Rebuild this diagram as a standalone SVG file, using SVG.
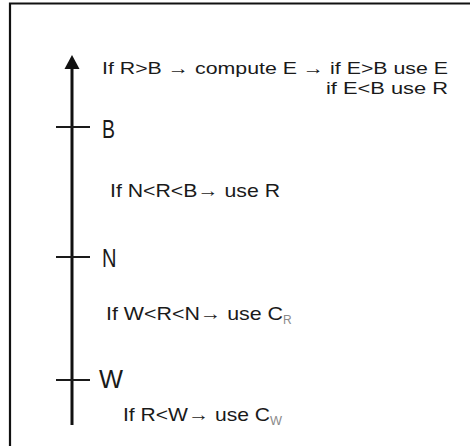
<svg xmlns="http://www.w3.org/2000/svg" width="470" height="446" viewBox="0 0 470 446">
<style>
.t{font-family:"Liberation Sans",Arial,sans-serif;font-size:19px;fill:#1a1a1a}
.tt{font-family:"Liberation Sans",Arial,sans-serif;font-size:17px;fill:#1a1a1a}
.lbl{font-family:"Liberation Sans",Arial,sans-serif;font-size:25px;fill:#1a1a1a}
.sub{font-family:"Liberation Sans",Arial,sans-serif;font-size:12px;fill:#8a8a8a}
.tick{stroke:#1a1a1a;stroke-width:2.2}
</style>
<rect width="470" height="446" fill="#ffffff"/>
<path d="M10 446 V3.5 H470" fill="none" stroke="#111" stroke-width="2.2"/>
<g id="axis">
<line x1="72" y1="66" x2="72" y2="425" stroke="#111" stroke-width="3"/>
<polygon points="72,55 64.5,69 79.5,69" fill="#111"/>
</g>
<g id="tick-B">
<line class="tick" x1="56" y1="127" x2="90" y2="127"/>
<text class="lbl" x="102" y="138" textLength="13" lengthAdjust="spacingAndGlyphs">B</text>
</g>
<g id="tick-N">
<line class="tick" x1="56" y1="257" x2="90" y2="257"/>
<text class="lbl" x="102" y="267" textLength="14.5" lengthAdjust="spacingAndGlyphs">N</text>
</g>
<g id="tick-W">
<line class="tick" x1="56" y1="380" x2="90" y2="380"/>
<text class="lbl" x="99" y="388" textLength="24" lengthAdjust="spacingAndGlyphs">W</text>
</g>
<g id="rule-above-B">
<text class="tt" x="102" y="74" textLength="346" lengthAdjust="spacingAndGlyphs">If R&gt;B → compute E → if E&gt;B use E</text>
<text class="tt" x="326" y="94" textLength="122" lengthAdjust="spacingAndGlyphs">if E&lt;B use R</text>
</g>
<g id="rule-N-B">
<text class="t" x="110" y="197" textLength="170" lengthAdjust="spacingAndGlyphs">If N&lt;R&lt;B→ use R</text>
</g>
<g id="rule-W-N">
<text class="t" x="106" y="320" textLength="177" lengthAdjust="spacingAndGlyphs">If W&lt;R&lt;N→ use C</text>
<text class="sub" x="283" y="324">R</text>
</g>
<g id="rule-below-W">
<text class="t" x="123" y="421" textLength="147" lengthAdjust="spacingAndGlyphs">If R&lt;W→ use C</text>
<text class="sub" x="270" y="425" textLength="12" lengthAdjust="spacingAndGlyphs">W</text>
</g>
<g id="connectors"></g>
</svg>
